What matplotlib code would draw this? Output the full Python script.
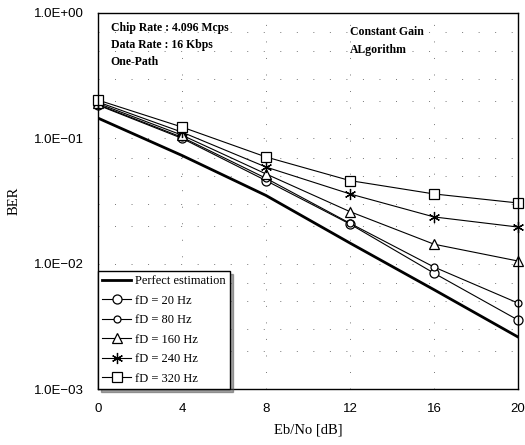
import matplotlib
matplotlib.use("Agg")
import matplotlib.pyplot as plt
from matplotlib.ticker import FixedLocator, FixedFormatter, LogLocator, NullFormatter

# data
ebno = [0, 4, 8, 12, 16, 20]
perfect = [0.145, 0.073, 0.035, 0.0146, 0.0062, 0.0026]
fd20 = [0.184, 0.100, 0.046, 0.0207, 0.0084, 0.00355]
fd80 = [0.186, 0.102, 0.048, 0.0210, 0.0094, 0.00485]
fd160 = [0.190, 0.106, 0.052, 0.026, 0.0143, 0.0105]
fd240 = [0.195, 0.112, 0.059, 0.036, 0.0236, 0.0196]
fd320 = [0.202, 0.123, 0.071, 0.046, 0.036, 0.0305]

series = [
    ("fD = 20 Hz", fd20, "o", 6.5),
    ("fD = 80 Hz", fd80, "o", 5),
    ("fD = 160 Hz", fd160, "^", 6.5),
    ("fD = 240 Hz", fd240, (6, 2, 0), 8),
    ("fD = 320 Hz", fd320, "s", 6.5),
]

ytick_vals = [1e-3, 1e-2, 1e-1, 1e0]
ytick_text = ["1.0E\u221203", "1.0E\u221202", "1.0E\u221201", "1.0E+00"]

serif = ["Liberation Serif", "DejaVu Serif"]
sans = ["Liberation Sans", "DejaVu Sans"]

fig = plt.figure(figsize=(5.25, 4.45), dpi=100)
ax = fig.add_axes([0.1867, 0.1258, 0.80, 0.845])

ax.plot(ebno, perfect, color="black", lw=2.0, label="Perfect estimation")
for name, vals, mk, ms in series:
    ax.plot(ebno, vals, color="black", lw=0.8, marker=mk, ms=ms,
            mfc="white", mec="black", mew=0.9, label=name, clip_on=False)

ax.set_yscale("log")
ax.set_xlim(0, 20)
ax.set_ylim(1e-3, 1)
ax.set_xticks(ebno)
ax.yaxis.set_major_locator(FixedLocator(ytick_vals))
ax.yaxis.set_major_formatter(FixedFormatter(ytick_text))
ax.yaxis.set_minor_locator(LogLocator(base=10, subs=[2, 3, 5, 7]))
ax.yaxis.set_minor_formatter(NullFormatter())
ax.tick_params(which="both", length=0, pad=10)
for lab in ax.get_xticklabels() + ax.get_yticklabels():
    lab.set_fontfamily(sans)
    lab.set_fontsize(9.5)

ax.grid(True, which="both", color="#777777", lw=0.7, linestyle=(0, (1, 16)))
for s in ax.spines.values():
    s.set_linewidth(1.0)

ax.set_xlabel("Eb/No [dB]", family=serif, fontsize=10.5, labelpad=6)
ax.set_ylabel("BER", family=serif, fontsize=10.5, labelpad=10)

ax.text(0.03, 0.975, "Chip Rate : 4.096 Mcps\nData Rate : 16 Kbps\nOne-Path",
        transform=ax.transAxes, va="top", ha="left", family=serif,
        fontweight="bold", fontsize=8.5, linespacing=1.55)
ax.text(0.6, 0.965, "Constant Gain\nALgorithm", transform=ax.transAxes,
        va="top", ha="left", family=serif, fontweight="bold", fontsize=8.5,
        linespacing=1.6)

leg = ax.legend(loc="lower left", bbox_to_anchor=(0, 0), prop={"family": serif, "size": 9},
                frameon=True, fancybox=False, shadow=True, handlelength=2.3,
                handletextpad=0.3, labelspacing=0.6, borderpad=0.35, borderaxespad=0)
leg.get_frame().set_edgecolor("black")
leg.get_frame().set_linewidth(1.0)

fig.savefig("out.png", dpi=100)
